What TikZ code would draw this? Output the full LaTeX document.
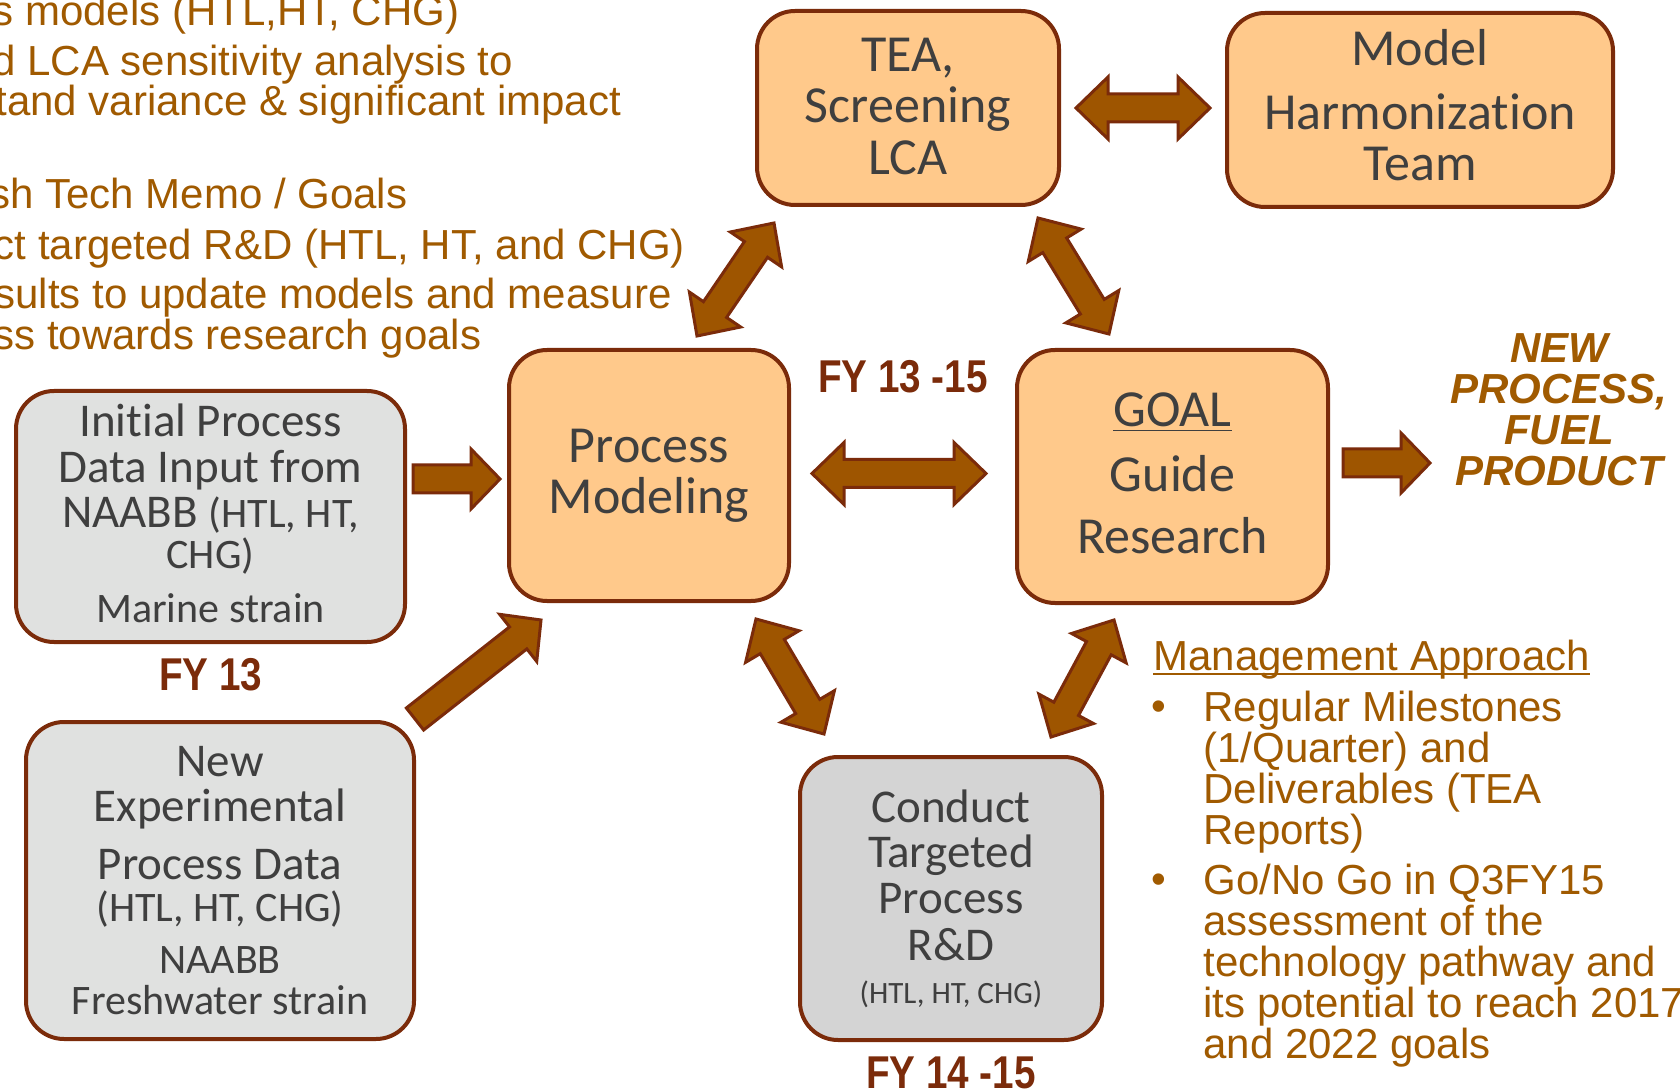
\documentclass[tikz,border=0pt]{standalone}
\usepackage{fontspec}
\usepackage{graphicx}
\setmainfont{Liberation Sans}
\newfontfamily\calibri[Ligatures=NoCommon]{Carlito}
\usepackage{tikz}
\usetikzlibrary{calc}

\definecolor{boxorange}{HTML}{FFC98B}
\definecolor{boxgrey}{HTML}{E0E1E0}
\definecolor{boxgreydark}{HTML}{D4D4D4}
\definecolor{edgebrown}{HTML}{7B2B0A}
\definecolor{arrowbrown}{HTML}{9E5500}
\definecolor{textbrown}{HTML}{A05A00}
\definecolor{textgrey}{HTML}{3F3F3F}

\newcommand{\boxfont}{\calibri\fontsize{26}{25.7}\selectfont}
\newcommand{\greyfont}{\calibri\fontsize{23.5}{22.75}\selectfont}
\newcommand{\greysmall}{\fontsize{21}{21}\selectfont}
\newcommand{\tinyfont}{\fontsize{15.5}{15.5}\selectfont}
\newcommand{\notefont}{\fontsize{21}{20.5}\selectfont}
\newcommand{\fyfont}{\bfseries\fontsize{23}{23}\selectfont}
% extra depth under the last line, lifts the text in its box
\newcommand{\lift}[1]{\rule[-#1]{0pt}{0pt}}

% block arrow, one head at #2
\newcommand{\singlearrow}[2]{%
  \coordinate (sa-h) at ($(#2)!14.5pt!(#1)$);
  \draw[blockarrow] ($(#1)!7pt!90:(#2)$) -- ($(sa-h)!7pt!90:(#2)$)
    -- ($(sa-h)!15pt!90:(#2)$) -- (#2) -- ($(sa-h)!15pt!-90:(#2)$)
    -- ($(sa-h)!7pt!-90:(#2)$) -- ($(#1)!7pt!-90:(#2)$) -- cycle;
}
% block arrow, heads at both ends
\newcommand{\doublearrow}[2]{%
  \coordinate (da-a) at ($(#1)!16pt!(#2)$);
  \coordinate (da-b) at ($(#2)!16pt!(#1)$);
  \draw[blockarrow] (#1) -- ($(da-a)!15.5pt!90:(#2)$) -- ($(da-a)!7pt!90:(#2)$)
    -- ($(da-b)!7pt!90:(#2)$) -- ($(da-b)!15.5pt!90:(#2)$) -- (#2)
    -- ($(da-b)!15.5pt!-90:(#2)$) -- ($(da-b)!7pt!-90:(#2)$)
    -- ($(da-a)!7pt!-90:(#2)$) -- ($(da-a)!15.5pt!-90:(#2)$) -- cycle;
}

\begin{document}
\begin{tikzpicture}[x=0.5pt,y=-0.5pt,
  box/.style={rounded corners=19pt, draw=edgebrown, line width=2pt, align=center, text=textgrey, inner sep=0pt},
  orangebox/.style={box, fill=boxorange, font=\boxfont},
  greybox/.style={box, fill=boxgrey, font=\greyfont},
  note/.style={text=textbrown, font=\notefont, inner sep=0pt},
  fylabel/.style={text=edgebrown, font=\fyfont, inner sep=0pt},
  blockarrow/.style={fill=arrowbrown, draw=edgebrown, line width=1.5pt, line join=miter}]
\useasboundingbox (0,0) rectangle (1680,1090);
\clip (0,0) rectangle (1680,1090);
\fill[white] (0,0) rectangle (1680,1090);

% Text Node: notes top left
\node[note, anchor=base west] (n1) at (-8,25.5) {s models (HTL,HT, CHG)};
\node[note, anchor=base west] (n2) at (-8,76) {d LCA sensitivity analysis to};
\node[note, anchor=base west] (n3) at (-5,116) {tand variance \& significant impact};
\node[note, anchor=base west] (n4) at (-11,209) {sh Tech Memo / Goals};
\node[note, anchor=base west] (n5) at (-6.5,260) {ct targeted R\&D (HTL, HT, and CHG)};
\node[note, anchor=base west] (n6) at (-6,309) {sults to update models and measure};
\node[note, anchor=base west] (n7) at (-7,350) {ss towards research goals};

% Shape: boxes
\node[orangebox, minimum width=151pt, minimum height=97pt] (tea) at (908,108) {TEA,\\Screening\\LCA\lift{2pt}};
\node[orangebox, minimum width=193pt, minimum height=97pt] (mht) at (1420,110) {Model\\[6.45pt]Harmonization\\Team\lift{5pt}};
\node[orangebox, minimum width=140pt, minimum height=125.5pt] (pm) at (649,475.5) {Process\\Modeling};
\node[orangebox, minimum width=155.5pt, minimum height=126.5pt] (goal) at (1172.5,476.5) {\underline{GOAL}\\[6.5pt]Guide\\[5.5pt]Research\lift{3pt}};
\node[greybox, minimum width=194.5pt, minimum height=125.5pt] (init) at (210.5,516.5)
  {Initial Process\\Data Input from\\NAABB {\greysmall (HTL, HT,}\\[-2.25pt]{\greysmall CHG)}\\[4.25pt]{\greysmall Marine strain}\lift{3pt}};
\node[greybox, minimum width=194pt, minimum height=158.5pt] (newexp) at (220,880.5)
  {New\\Experimental\\[6.25pt]Process Data\\[-1.75pt]{\greysmall (HTL, HT, CHG)}\\[3.25pt]{\greysmall NAABB}\\[-2.25pt]{\greysmall Freshwater strain}};
\node[greybox, fill=boxgreydark, minimum width=151pt, minimum height=141.5pt] (conduct) at (951,898.5)
  {Conduct\\Targeted\\Process\\[0.75pt]R\&D\\[-1.25pt]{\tinyfont (HTL, HT, CHG)}};

% Text Node: year labels
\node[fylabel, anchor=base] (fy1315) at (903,393) {\scalebox{0.84}[1]{FY 13 -15}};
\node[fylabel, anchor=base] (fy13) at (210.7,690) {\scalebox{0.84}[1]{FY 13}};
\node[fylabel, anchor=base] (fy1415) at (951,1088) {\scalebox{0.84}[1]{FY 14 -15}};

% Text Node: outcome
\node[note, font=\notefont\bfseries\itshape, anchor=north, align=center] (newfuel) at (1559,333.5) {NEW\\PROCESS,\\FUEL\\PRODUCT};

% Text Node: management approach
\node[note, anchor=base west] (mgmt) at (1153,670) {Management Approach};
\draw[textbrown, line width=1.2pt] ($(mgmt.base west)+(0,4)$) -- ($(mgmt.base east)+(0,4)$);
\node[note, anchor=base] (b1) at (1159,720) {\textbullet};
\node[note, anchor=north west, align=left] (m1) at (1203,690.5) {Regular Milestones\\(1/Quarter) and\\Deliverables (TEA\\Reports)};
\node[note, anchor=base] (b2) at (1159,893.3) {\textbullet};
\node[note, anchor=north west, align=left] (m2) at (1203,863.2) {Go/No Go in Q3FY15\\assessment of the\\technology pathway and\\its potential to reach 2017\\and 2022 goals};

% Block arrows
\coordinate (initarr-a) at (413,479);
\coordinate (initarr-b) at (500,479);
\singlearrow{initarr-a}{initarr-b}
\coordinate (newarr-a) at (415,719);
\coordinate (newarr-b) at (541,620);
\singlearrow{newarr-a}{newarr-b}
\coordinate (fuelarr-a) at (1343,463);
\coordinate (fuelarr-b) at (1430,463);
\singlearrow{fuelarr-a}{fuelarr-b}
\coordinate (pmtea-a) at (697,336);
\coordinate (pmtea-b) at (774,223);
\doublearrow{pmtea-a}{pmtea-b}
\coordinate (teagoal-a) at (1038,218);
\coordinate (teagoal-b) at (1109,334);
\doublearrow{teagoal-a}{teagoal-b}
\coordinate (teamht-a) at (1076,108);
\coordinate (teamht-b) at (1210,108);
\doublearrow{teamht-a}{teamht-b}
\coordinate (pmgoal-a) at (812,473.5);
\coordinate (pmgoal-b) at (986,473.5);
\doublearrow{pmgoal-a}{pmgoal-b}
\coordinate (pmcond-a) at (756,619);
\coordinate (pmcond-b) at (824,734);
\doublearrow{pmcond-a}{pmcond-b}
\coordinate (goalcond-a) at (1051,737);
\coordinate (goalcond-b) at (1114,620);
\doublearrow{goalcond-a}{goalcond-b}

\end{tikzpicture}
\end{document}
